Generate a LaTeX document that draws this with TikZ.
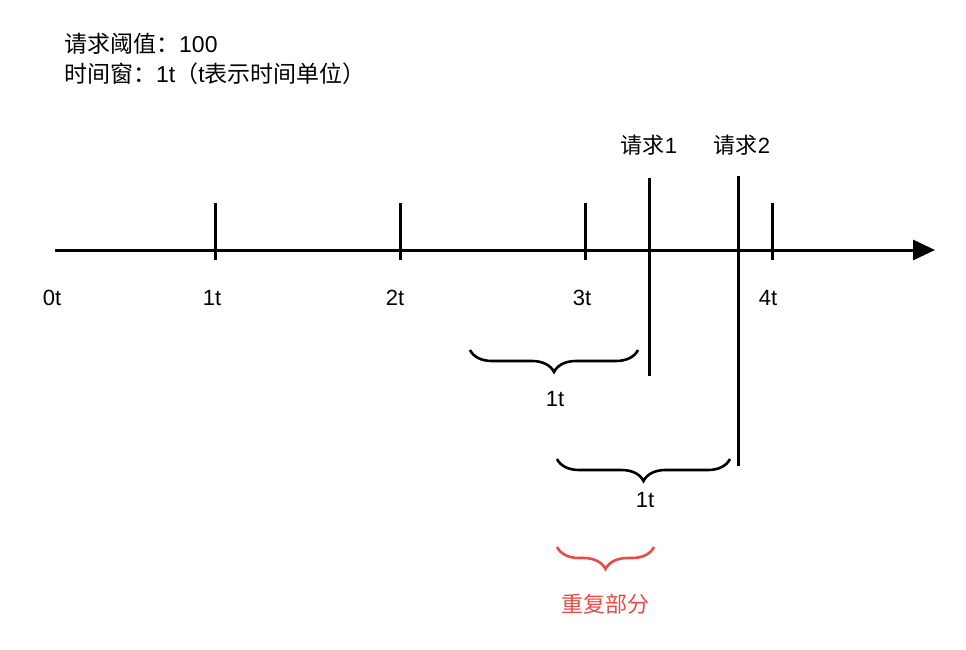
\documentclass[tikz,border=0pt]{standalone}
\usepackage{fontspec}
\setmainfont{Liberation Sans}
\newfontfamily\cjk{Noto Sans CJK SC}
\usetikzlibrary{arrows.meta,decorations.pathreplacing}
\definecolor{redc}{HTML}{EA4B45}
\tikzset{
  lbl/.style={font=\fontsize{22}{26}\selectfont, inner sep=0pt},
  info/.style={font=\fontsize{23}{27}\selectfont, inner sep=0pt, anchor=west},
  tick/.style={line width=3pt},
  brc/.style={line width=2.6pt, decorate, decoration={brace, mirror, amplitude=22pt, aspect=0.5}},
}
\begin{document}
\begin{tikzpicture}[x=1pt,y=-1pt]
\useasboundingbox (0,0) rectangle (966,650);
% info text
\node[info] (info1) at (64,44) {{\cjk 请求阈值：}100};
\node[info] (info2) at (64,74) {{\cjk 时间窗：}1t{\cjk （}t{\cjk 表示时间单位）}};
% axis
\coordinate (a0) at (55,250);
\coordinate (a1) at (935,250);
\draw[line width=3pt, -{Triangle[length=22pt,width=20pt]}] (a0) -- (a1);
% ticks
\foreach \x/\n in {215/1,400/2,585/3,772/4}{
  \coordinate (t\n a) at (\x,203);
  \coordinate (t\n b) at (\x,260);
  \draw[tick] (t\n a) -- (t\n b);
}
% tick labels
\node[lbl] (l0) at (52,298) {0t};
\node[lbl] (l1) at (212,298) {1t};
\node[lbl] (l2) at (395,298) {2t};
\node[lbl] (l3) at (582,298) {3t};
\node[lbl] (l4) at (768,298) {4t};
% requests
\node[lbl] (r1) at (649,145) {{\cjk 请求}1};
\node[lbl] (r2) at (742,145) {{\cjk 请求}2};
\coordinate (r1a) at (649,178);
\coordinate (r1b) at (649,376);
\coordinate (r2a) at (738,176);
\coordinate (r2b) at (738,466);
\draw[tick] (r1a) -- (r1b);
\draw[tick] (r2a) -- (r2b);
% braces
\coordinate (b1a) at (470,350);
\coordinate (b1b) at (638,350);
\draw[brc] (b1a) -- (b1b);
\node[lbl] (w1) at (555,399) {1t};
\coordinate (b2a) at (557,459);
\coordinate (b2b) at (730,459);
\draw[brc] (b2a) -- (b2b);
\node[lbl] (w2) at (645,500) {1t};
\coordinate (b3a) at (557,547);
\coordinate (b3b) at (654,547);
\draw[brc, draw=redc] (b3a) -- (b3b);
\node[lbl, text=redc] (ov) at (605,604) {\cjk 重复部分};
\end{tikzpicture}
\end{document}
